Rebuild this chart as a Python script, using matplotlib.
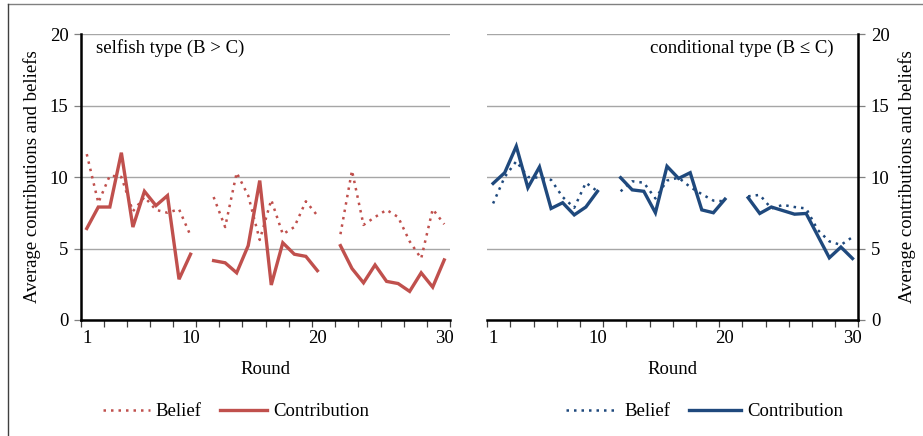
import matplotlib
matplotlib.use('Agg')
import matplotlib.pyplot as plt
from matplotlib.lines import Line2D
import numpy as np

plt.rcParams['font.family'] = ['Liberation Serif', 'DejaVu Serif']

rounds = list(range(1, 31))

# selfish type (B > C)
selfish_belief = [11.6, 8.2, 10.1, 10.0, 7.6, 8.6, 7.7, 7.5, 7.75, 5.9,
                  8.6, 6.5, 10.3, 8.7, 5.6, 8.4, 6.0, 6.5, 8.3, 7.3,
                  6.0, 10.45, 6.65, 7.2, 7.7, 7.2, 5.5, 4.3, 7.75, 6.7]
selfish_contrib = [6.4, 7.9, 7.9, 11.7, 6.5, 9.0, 8.0, 8.7, 2.85, 4.6,
                   4.15, 4.0, 3.3, 5.2, 9.75, 2.45, 5.4, 4.6, 4.45, 3.45,
                   5.2, 3.6, 2.6, 3.85, 2.7, 2.55, 2.0, 3.3, 2.3, 4.2]

# conditional type (B <= C)
cond_belief = [8.15, 10.0, 11.1, 10.0, 9.95, 9.8, 8.6, 7.85, 9.6, 9.0,
               9.0, 9.7, 9.6, 8.5, 9.75, 9.95, 9.3, 8.8, 8.35, 8.3,
               8.65, 8.75, 7.8, 8.05, 7.9, 7.8, 6.3, 5.5, 5.25, 5.8]
cond_contrib = [9.55, 10.3, 12.15, 9.25, 10.7, 7.8, 8.2, 7.35, 7.9, 9.0,
                9.95, 9.1, 9.0, 7.5, 10.75, 9.9, 10.3, 7.7, 7.5, 8.45,
                8.55, 7.45, 7.9, 7.65, 7.4, 7.45, 5.9, 4.35, 5.1, 4.3]

tick_rounds = [1, 10, 20, 30]

RED = '#C0504D'
BLUE = '#1F497D'
FS = 13.5


def blocks(values):
    # split 30 rounds into three blocks of 10, with an empty slot between
    out = []
    for b in range(3):
        r = np.array(rounds[b * 10:(b + 1) * 10])
        x = r + b
        y = np.array(values[b * 10:(b + 1) * 10])
        out.append((x, y))
    return out


def pos(r):
    return r + (r - 1) // 10


def draw(ax, belief, contrib, color, side):
    for x, y in blocks(belief):
        ax.plot(x, y, color=color, lw=1.8, linestyle=(0, (1, 2.0)), zorder=3)
    for x, y in blocks(contrib):
        ax.plot(x, y, color=color, lw=2.4, solid_joinstyle='miter', zorder=4)

    ax.set_xlim(0.5, 32.5)
    ax.set_ylim(0, 20)
    ax.set_yticks([0, 5, 10, 15, 20])
    ax.yaxis.grid(True, color='#A6A6A6', lw=1.0)
    ax.set_axisbelow(True)
    ax.set_xticks([pos(r) for r in tick_rounds])
    ax.set_xticklabels([str(r) for r in tick_rounds])
    ax.set_xticks(np.arange(0.5, 33, 2), minor=True)
    ax.tick_params(axis='x', which='major', length=0, pad=7, labelsize=FS)
    ax.tick_params(axis='x', which='minor', length=5, width=0.9, direction='out', color='#404040')
    ax.tick_params(axis='y', length=5, width=0.9, color='#808080', labelsize=FS, pad=4)
    for s in ['top', 'right', 'left']:
        ax.spines[s].set_visible(False)
    ax.spines['bottom'].set_linewidth(1.8)
    if side == 'left':
        ax.spines['left'].set_visible(True)
        ax.spines['left'].set_linewidth(1.8)
    else:
        ax.spines['right'].set_visible(True)
        ax.spines['right'].set_linewidth(1.8)
        ax.yaxis.tick_right()
        ax.yaxis.set_label_position('right')
    ax.set_xlabel('Round', fontsize=FS, labelpad=10)
    ax.set_ylabel('Average contributions and beliefs', fontsize=FS, labelpad=6)

    handles = [Line2D([], [], color=color, lw=1.8, linestyle=(0, (1, 2.0))),
               Line2D([], [], color=color, lw=2.4)]
    return handles


fig = plt.figure(figsize=(9.23, 4.36), dpi=100)
W, H = 923, 436
ax1 = fig.add_axes([81 / W, (H - 320) / H, 369 / W, 286 / H])
ax2 = fig.add_axes([487.3 / W, (H - 320) / H, 371 / W, 286 / H])

h1 = draw(ax1, selfish_belief, selfish_contrib, RED, 'left')
h2 = draw(ax2, cond_belief, cond_contrib, BLUE, 'right')

ax1.text(0.04, 0.95, 'selfish type (B > C)', transform=ax1.transAxes,
         ha='left', va='center', fontsize=FS)
ax2.text(0.933, 0.95, 'conditional type (B \u2264 C)', transform=ax2.transAxes,
         ha='right', va='center', fontsize=FS)

ax1.legend(h1, ['Belief', 'Contribution'], loc='center', bbox_to_anchor=(0.42, -0.32),
           ncol=2, frameon=False, fontsize=FS, handlelength=2.5, columnspacing=1.0,
           handletextpad=0.3)
ax2.legend(h2, ['Belief', 'Contribution'], loc='center', bbox_to_anchor=(0.585, -0.32),
           ncol=2, frameon=False, fontsize=FS, handlelength=2.8, columnspacing=1.0,
           handletextpad=0.3)

# frame edges of the original figure box
fig.add_artist(Line2D([8 / W, 1], [1 - 4 / H, 1 - 4 / H], color='#808080', lw=1.0))
fig.add_artist(Line2D([8 / W, 8 / W], [0, 1 - 4 / H], color='#404040', lw=1.0))

plt.savefig('out.png', dpi=100)
